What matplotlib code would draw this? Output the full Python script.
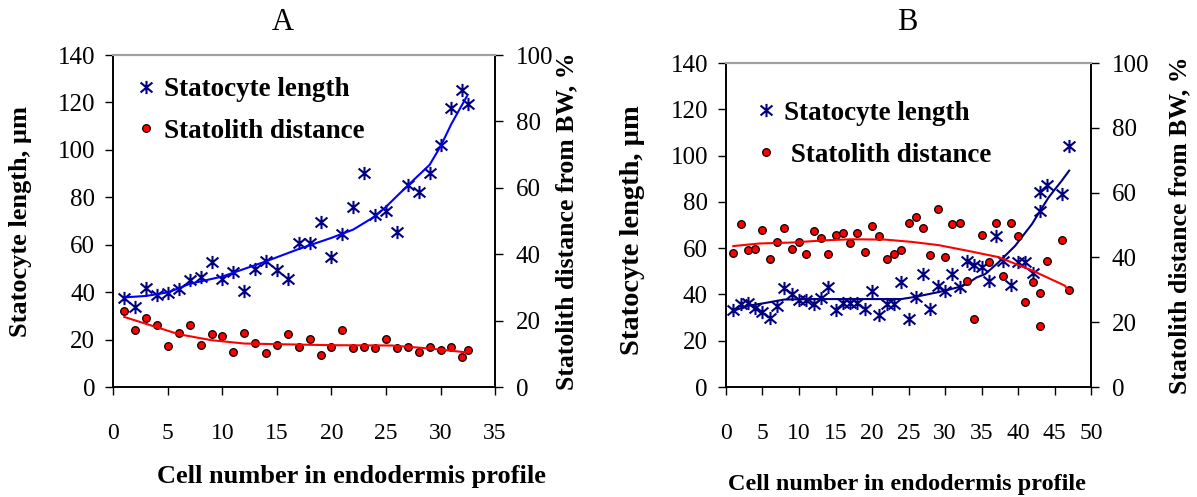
import matplotlib
matplotlib.use('Agg')
import matplotlib.pyplot as plt
from matplotlib.path import Path

# ---- panel A data ----
a_cells = [1, 2, 3, 4, 5, 6, 7, 8, 9, 10, 11, 12, 13, 14, 15, 16, 17, 18, 19, 20,
           21, 22, 23, 24, 25, 26, 27, 28, 29, 30, 31, 32, 32.5]
a_length = [37.5, 33.7, 41.7, 38.6, 39.6, 41.3, 45.2, 46.6, 52.6, 45.7, 48.6, 40.6,
            49.9, 53.0, 49.5, 45.5, 60.7, 60.7, 69.6, 54.7, 64.7, 75.8, 90.1, 72.7,
            74.1, 65.3, 85.1, 82.3, 90.1, 101.9, 117.5, 125.3, 119.2]
a_dist = [22.9, 17.1, 20.8, 18.7, 12.4, 16.4, 18.7, 12.8, 15.9, 15.4, 10.6, 16.4,
          13.2, 10.1, 12.8, 15.9, 12.2, 14.4, 9.6, 12.2, 17.1, 11.7, 12.2, 11.7,
          14.4, 11.7, 12.2, 10.6, 12.2, 11.2, 12.2, 9.1, 11.2]
# trend lines
a_len_trend_x = [1, 3, 5, 7, 10, 12, 14, 17, 20, 22, 24, 25, 27, 29, 30, 31, 32.4]
a_len_trend_y = [37.8, 38.4, 39.9, 43.5, 46.6, 49.8, 53.0, 58.2, 62.9, 66.4, 72.0,
                 76.0, 85.0, 93.7, 101.5, 111.0, 122.5]
a_dist_trend_x = [1, 3.6, 6, 9, 12, 15, 20, 25.5, 29, 32.5]
a_dist_trend_y = [21.1, 18.4, 15.9, 14.1, 13.1, 12.9, 12.6, 12.5, 11.6, 10.4]

# ---- panel B data ----
b_cells = list(range(1, 43)) + [43, 43, 44, 46, 47]
b_length = [33.2, 35.8, 36.1, 34.3, 32.2, 29.7, 34.8, 42.7, 40.1, 37.5, 37.5, 35.8,
            38.4, 43.4, 33.2, 36.1, 36.1, 36.1, 33.6, 41.6, 31.2, 35.8, 35.8, 45.2,
            29.6, 38.7, 48.8, 33.9, 43.7, 41.6, 48.8, 43.4, 54.5, 52.8, 51.9, 45.9,
            65.1, 54.5, 44.0, 54.1, 54.1, 49.2, 76.0, 84.2, 87.3, 83.5, 104.3]
b_dist = [41.5, 50.2, 42.2, 42.6, 48.6, 39.5, 44.8, 49.1, 42.7, 44.8, 41.2, 48.0,
          45.9, 41.2, 47.0, 47.5, 44.3, 47.5, 41.6, 49.7, 46.5, 39.5, 41.2, 42.2,
          50.7, 52.4, 49.1, 40.6, 54.9, 40.1, 50.3, 50.7, 32.7, 20.9, 47.0, 38.5,
          50.7, 34.2, 50.7, 46.5, 26.3, 32.4, 28.9, 18.8, 39.0, 45.3, 29.9]
b_len_trend_x = [1, 3, 5, 8, 12, 18, 24, 26, 28, 30, 32, 33, 34.3, 35.5, 37.3,
                 39.6, 41.9, 44.2, 46, 47]
b_len_trend_y = [32.9, 35.1, 36.1, 37.8, 38.0, 38.0, 38.0, 39.0, 40.3, 41.6, 43.3,
                 44.5, 47.3, 48.8, 53.8, 61.0, 70.4, 82.0, 89.2, 93.5]
b_dist_trend_x = [1, 4.6, 9.1, 13.7, 17.1, 21.8, 25.4, 29.1, 33.2, 37.3, 41.9,
                  46.4, 46.9]
b_dist_trend_y = [43.5, 44.3, 44.6, 45.3, 45.6, 45.5, 44.8, 43.8, 42.0, 40.1, 36.0,
                  31.3, 29.8]

plt.rcParams['font.family'] = ['Liberation Serif', 'DejaVu Serif']

# Excel-like asterisk marker
star = Path([(0, -1), (0, 1), (-0.9, -0.75), (0.9, 0.75), (-0.9, 0.75), (0.9, -0.75)],
            [Path.MOVETO, Path.LINETO] * 3)
NAVY = '#000080'
LEG = {'size': 19.5, 'weight': 'bold'}


def style_axes(ax, ax2, xmax):
	ax.set_xlim(0, xmax)
	ax.set_ylim(0, 140)
	ax2.set_ylim(0, 100)
	ax.set_yticks(range(0, 141, 20))
	ax2.set_yticks(range(0, 101, 20))
	ax.set_xticks(range(0, xmax + 1, 5))
	for a in (ax, ax2):
		for s in ('left', 'right', 'bottom'):
			a.spines[s].set_linewidth(1.2)
		a.spines['top'].set_color('#a0a0a0')
		a.spines['top'].set_linewidth(1.5)
	ax.tick_params(axis='y', direction='out', length=6, width=1, labelsize=18, pad=7)
	ax.tick_params(axis='x', direction='out', length=6, width=1, labelsize=17, pad=20)
	ax2.tick_params(axis='y', direction='out', length=6, width=1, labelsize=18, pad=9)


fig = plt.figure(figsize=(11.97, 4.97), dpi=100)

# ---------- A ----------
axA = fig.add_axes([0.0947, 0.2213, 0.3189, 0.668])
axA2 = axA.twinx()
hA1, = axA.plot(a_cells, a_length, linestyle='none', marker=star, markersize=9.5,
                markerfacecolor='none', markeredgecolor=NAVY, markeredgewidth=1.5)
axA.plot(a_len_trend_x, a_len_trend_y, color='#0000FF', lw=1.5)
hA2, = axA2.plot(a_cells, a_dist, linestyle='none', marker='o', markersize=5.5,
                 markerfacecolor='red', markeredgecolor='black', markeredgewidth=0.9)
axA2.plot(a_dist_trend_x, a_dist_trend_y, color='red', lw=1.5)
style_axes(axA, axA2, 35)
axA.set_ylabel('Statocyte length, µm', fontsize=19, fontweight='bold')
axA.yaxis.set_label_coords(-0.213, 0.5)
axA2.set_ylabel('Statolith distance from BW, %', fontsize=18.5, fontweight='bold',
                rotation=90)
axA2.yaxis.set_label_coords(1.157, 0.5)
axA.set_xlabel('Cell number in endodermis profile', fontsize=19, fontweight='bold')
axA.xaxis.set_label_coords(0.625, -0.235)
axA2.legend([hA1, hA2], ['Statocyte length', 'Statolith distance'], loc='upper left',
            bbox_to_anchor=(0.022, 0.966), frameon=False, numpoints=1,
            handlelength=1, handletextpad=0.15, labelspacing=0.62,
            borderaxespad=0, prop=LEG)
fig.text(283 / 1197, 1 - 22 / 497, 'A', fontsize=22, ha='center', va='center')

# ---------- B ----------
axB = fig.add_axes([0.6065, 0.2213, 0.305, 0.6519])
axB2 = axB.twinx()
hB1, = axB.plot(b_cells, b_length, linestyle='none', marker=star, markersize=9.5,
                markerfacecolor='none', markeredgecolor=NAVY, markeredgewidth=1.5)
axB.plot(b_len_trend_x, b_len_trend_y, color=NAVY, lw=1.5)
hB2, = axB2.plot(b_cells, b_dist, linestyle='none', marker='o', markersize=5.5,
                 markerfacecolor='red', markeredgecolor='black', markeredgewidth=0.9)
axB2.plot(b_dist_trend_x, b_dist_trend_y, color='red', lw=1.5)
style_axes(axB, axB2, 50)
axB.set_ylabel('Statocyte length, µm', fontsize=20.5, fontweight='bold')
axB.yaxis.set_label_coords(-0.222, 0.485)
axB2.set_ylabel('Statolith distance from BW, %', fontsize=18.5, fontweight='bold',
                rotation=90)
axB2.yaxis.set_label_coords(1.211, 0.5)
axB.set_xlabel('Cell number in endodermis profile', fontsize=17.5, fontweight='bold')
axB.xaxis.set_label_coords(0.496, -0.27)
axB2.legend([hB1, hB2], ['Statocyte length', ' Statolith distance'], loc='upper left',
            bbox_to_anchor=(0.043, 0.917), frameon=False, numpoints=1,
            handlelength=1, handletextpad=0.15, labelspacing=0.62,
            borderaxespad=0, prop=LEG)
fig.text(907 / 1197, 1 - 22 / 497, 'B', fontsize=22, ha='center', va='center')

fig.savefig('out.png', dpi=100)
